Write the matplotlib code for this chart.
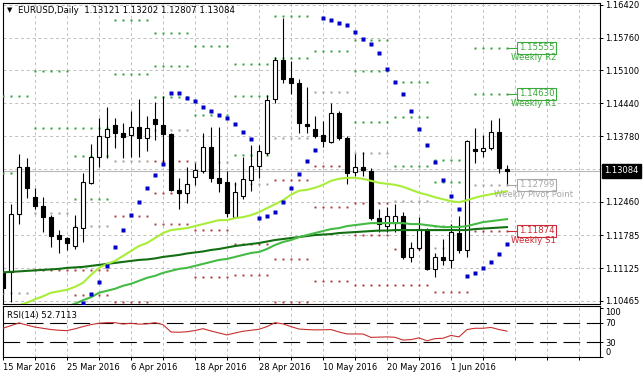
"""
EURUSD daily chart (MT4 look): candles, three moving averages, parabolic SAR,
weekly pivot levels and an RSI(14) sub-window.
"""
import numpy as np
import matplotlib
matplotlib.use('Agg')
import matplotlib.pyplot as plt

# one bar per trading day, bar 0 = 15 Mar 2016
open_ = [1.1105, 1.1105, 1.1221, 1.1316, 1.1255, 1.1237, 1.1215, 1.1179, 1.1173, 1.1157,
         1.1193, 1.1284, 1.1336, 1.1376, 1.1400, 1.1384, 1.1380, 1.1396, 1.1374, 1.1412,
         1.1400, 1.1382, 1.1270, 1.1264, 1.1296, 1.1308, 1.1356, 1.1294, 1.1286, 1.1215,
         1.1257, 1.1290, 1.1318, 1.1344, 1.1453, 1.1531, 1.1495, 1.1485, 1.1402, 1.1392,
         1.1380, 1.1366, 1.1424, 1.1374, 1.1306, 1.1316, 1.1308, 1.1213, 1.1197, 1.1203,
         1.1217, 1.1135, 1.1153, 1.1189, 1.1111, 1.1135, 1.1129, 1.1183, 1.1149, 1.1352,
         1.1348, 1.1354, 1.1386, 1.13121]
high = [1.1123, 1.1241, 1.1342, 1.1334, 1.1274, 1.1255, 1.1219, 1.1189, 1.1175, 1.1219,
        1.1304, 1.1362, 1.1414, 1.1436, 1.1414, 1.1404, 1.1428, 1.1453, 1.1418, 1.1446,
        1.1459, 1.1384, 1.1294, 1.1316, 1.1324, 1.1384, 1.1396, 1.1396, 1.1308, 1.1286,
        1.1336, 1.1360, 1.1360, 1.1461, 1.1537, 1.1615, 1.1529, 1.1493, 1.1477, 1.1418,
        1.1408, 1.1444, 1.1428, 1.1378, 1.1342, 1.1346, 1.1314, 1.1231, 1.1235, 1.1241,
        1.1225, 1.1165, 1.1215, 1.1193, 1.1143, 1.1171, 1.1201, 1.1217, 1.1370, 1.1394,
        1.1380, 1.1410, 1.1414, 1.13202]
low = [1.1063, 1.1044, 1.1201, 1.1253, 1.1231, 1.1185, 1.1155, 1.1143, 1.1149, 1.1151,
       1.1165, 1.1282, 1.1316, 1.1334, 1.1354, 1.1334, 1.1336, 1.1336, 1.1348, 1.1370,
       1.1324, 1.1268, 1.1231, 1.1243, 1.1280, 1.1304, 1.1286, 1.1266, 1.1215, 1.1213,
       1.1251, 1.1268, 1.1294, 1.1340, 1.1444, 1.1485, 1.1463, 1.1384, 1.1384, 1.1374,
       1.1356, 1.1364, 1.1370, 1.1282, 1.1298, 1.1298, 1.1209, 1.1185, 1.1185, 1.1185,
       1.1131, 1.1125, 1.1149, 1.1109, 1.1095, 1.1119, 1.1113, 1.1143, 1.1135, 1.1324,
       1.1336, 1.1350, 1.1304, 1.12807]
close = [1.1073, 1.1221, 1.1316, 1.1274, 1.1237, 1.1215, 1.1177, 1.1171, 1.1163, 1.1195,
         1.1286, 1.1336, 1.1378, 1.1392, 1.1384, 1.1376, 1.1396, 1.1374, 1.1394, 1.1402,
         1.1382, 1.1270, 1.1264, 1.1282, 1.1310, 1.1356, 1.1294, 1.1284, 1.1223, 1.1266,
         1.1292, 1.1318, 1.1348, 1.1451, 1.1531, 1.1493, 1.1485, 1.1404, 1.1398, 1.1378,
         1.1368, 1.1424, 1.1374, 1.1304, 1.1316, 1.1310, 1.1213, 1.1201, 1.1217, 1.1217,
         1.1135, 1.1153, 1.1191, 1.1111, 1.1135, 1.1129, 1.1185, 1.1149, 1.1368, 1.1348,
         1.1354, 1.1386, 1.1314, 1.13084]

# moving averages (fast / medium / slow)
ma_fast = [1.1028, 1.1032, 1.1038, 1.1043, 1.1050, 1.1056, 1.1063, 1.1066, 1.1069, 1.1075,
           1.1083, 1.1099, 1.1113, 1.1121, 1.1127, 1.1137, 1.1147, 1.1157, 1.1163, 1.1173,
           1.1183, 1.1189, 1.1191, 1.1193, 1.1197, 1.1201, 1.1205, 1.1209, 1.1209, 1.1213,
           1.1215, 1.1219, 1.1225, 1.1233, 1.1241, 1.1249, 1.1260, 1.1268, 1.1270, 1.1274,
           1.1280, 1.1288, 1.1292, 1.1294, 1.1294, 1.1292, 1.1288, 1.1284, 1.1282, 1.1280,
           1.1276, 1.1270, 1.1264, 1.1260, 1.1255, 1.1251, 1.1247, 1.1245, 1.1249, 1.1254,
           1.1258, 1.1261, 1.1264, 1.1267]
ma_mid = [1.0988, 1.0994, 1.1000, 1.1006, 1.1012, 1.1018, 1.1024, 1.1029, 1.1035, 1.1041,
          1.1048, 1.1054, 1.1063, 1.1067, 1.1071, 1.1077, 1.1081, 1.1087, 1.1093, 1.1097,
          1.1103, 1.1107, 1.1111, 1.1113, 1.1117, 1.1121, 1.1125, 1.1129, 1.1131, 1.1135,
          1.1139, 1.1143, 1.1145, 1.1151, 1.1159, 1.1165, 1.1169, 1.1175, 1.1179, 1.1183,
          1.1187, 1.1191, 1.1193, 1.1197, 1.1199, 1.1201, 1.1203, 1.1203, 1.1203, 1.1203,
          1.1203, 1.1201, 1.1201, 1.1199, 1.1197, 1.1195, 1.1195, 1.1195, 1.1197, 1.1201,
          1.1205, 1.1207, 1.1209, 1.1211]
ma_slow = [1.1104, 1.1105, 1.1106, 1.1107, 1.1108, 1.1109, 1.1110, 1.1111, 1.1113, 1.1114,
           1.1115, 1.1117, 1.1119, 1.1121, 1.1123, 1.1125, 1.1127, 1.1129, 1.1130, 1.1132,
           1.1135, 1.1137, 1.1139, 1.1142, 1.1144, 1.1146, 1.1149, 1.1151, 1.1154, 1.1157,
           1.1159, 1.1161, 1.1163, 1.1166, 1.1169, 1.1171, 1.1173, 1.1175, 1.1177, 1.1179,
           1.1180, 1.1181, 1.1183, 1.1184, 1.1185, 1.1186, 1.1187, 1.1188, 1.1188, 1.1189,
           1.1189, 1.1189, 1.1189, 1.1189, 1.1189, 1.1189, 1.1189, 1.1189, 1.1189, 1.1191,
           1.1192, 1.1193, 1.1194, 1.1195]

# parabolic SAR (below the visible range for the first bars)
sar = [np.nan] * 10 + [
    1.1042, 1.1061, 1.1085, 1.1117, 1.1155, 1.1189, 1.1220, 1.1246, 1.1273, 1.1300,
    1.1322, 1.1465, 1.1465, 1.1455, 1.1448, 1.1437, 1.1429, 1.1420, 1.1414, 1.1402,
    1.1387, 1.1373, 1.1213, 1.1217, 1.1226, 1.1246, 1.1273, 1.1302, 1.1328, 1.1350,
    1.1616, 1.1611, 1.1606, 1.1601, 1.1588, 1.1574, 1.1564, 1.1544, 1.1513, 1.1487,
    1.1463, 1.1429, 1.1393, 1.1360, 1.1326, 1.1290, 1.1257, 1.1231, 1.1097, 1.1102,
    1.1113, 1.1125, 1.1141, 1.1162]

rsi = [58.6, 64.0, 69.5, 65.0, 61.0, 58.5, 56.0, 54.5, 53.7, 57.5,
       62.0, 66.0, 68.8, 70.0, 70.0, 67.3, 68.8, 67.0, 67.5, 70.0,
       66.0, 51.0, 50.5, 51.5, 54.0, 57.8, 53.0, 49.0, 45.0, 49.0,
       52.5, 54.5, 56.5, 62.0, 70.0, 67.5, 62.0, 57.0, 56.0, 55.3,
       55.5, 56.0, 51.0, 47.0, 47.0, 46.9, 40.0, 40.5, 41.0, 40.2,
       34.5, 35.5, 39.0, 33.0, 37.5, 38.2, 44.0, 41.0, 56.0, 58.6,
       58.6, 60.3, 56.0, 52.7113]

# weekly pivot levels, one value per week
week_start = [0, 4, 9, 14, 19, 24, 29, 34, 39, 44, 49, 54, 59]
week_end = [3, 8, 13, 18, 23, 28, 33, 38, 43, 48, 53, 58, 63]
piv_r3 = [1.1700, 1.1676, 1.1394, 1.1786, 1.1585, 1.1650, 1.1522, 1.1771, 1.1779, 1.1571, 1.1487, 1.1330, 1.1740]
piv_r2 = [1.1459, 1.1509, 1.1338, 1.1612, 1.1519, 1.1558, 1.1459, 1.1620, 1.1697, 1.1509, 1.1417, 1.1286, 1.15555]
piv_r1 = [1.1304, 1.1394, 1.1252, 1.1503, 1.1457, 1.1420, 1.1340, 1.1535, 1.1549, 1.1407, 1.1318, 1.1198, 1.14630]
piv_pp = [1.1063, 1.1224, 1.1197, 1.1327, 1.1390, 1.1325, 1.1281, 1.1375, 1.1466, 1.1343, 1.1248, 1.1152, 1.12799]
piv_s1 = [1.0908, 1.1109, 1.1109, 1.1217, 1.1328, 1.1189, 1.1161, 1.1290, 1.1318, 1.1244, 1.1150, 1.1065, 1.11874]
piv_s2 = [1.0667, 1.0941, 1.1059, 1.1044, 1.1264, 1.1095, 1.1099, 1.1130, 1.1236, 1.1179, 1.1079, 1.1022, 1.1005]
piv_s3 = [1.0512, 1.0824, 1.0968, 1.0933, 1.1201, 1.0961, 1.0979, 1.1045, 1.1087, 1.1079, 1.0991, 1.0880, 1.0915]

price_ticks = [1.16420, 1.15760, 1.15100, 1.14440, 1.13780, 1.12460, 1.11785, 1.11125, 1.10465]
price_grid_extra = [1.13120]
date_labels = ['15 Mar 2016', '25 Mar 2016', '6 Apr 2016', '18 Apr 2016',
               '28 Apr 2016', '10 May 2016', '20 May 2016', '1 Jun 2016']
title = 'EURUSD,Daily  1.13121 1.13202 1.12807 1.13084'

W, H = 643, 378
GRID = '#c0c0c0'
FONT = 'DejaVu Sans'


def px_rect(left, top, right, bottom):
    """Figure rect from pixel box"""
    return [left / W, 1 - bottom / H, (right - left) / W, (bottom - top) / H]


def style_axes(ax):
    ax.set_facecolor('white')
    for s in ax.spines.values():
        s.set_color('black')
        s.set_linewidth(0.8)
    ax.yaxis.tick_right()
    ax.tick_params(axis='y', length=2.5, width=0.7, pad=1.5, labelsize=6, colors='black')


def vgrid(ax, right):
    for b in range(4, int(right) + 1, 4):
        ax.axvline(b, color=GRID, lw=0.7, dashes=(3, 3), zorder=1)


def draw_pivots(ax):
    styles = [(piv_r3, '#2f9e3a', 1.5), (piv_r2, '#2f9e3a', 1.5), (piv_r1, '#2f9e3a', 1.5),
              (piv_pp, '#a0a0a0', 2.1), (piv_s1, '#a83838', 1.4),
              (piv_s2, '#a83838', 1.4), (piv_s3, '#a83838', 1.4)]
    for levels, col, ms in styles:
        for s, e, lv in zip(week_start, week_end, levels):
            xs = np.arange(s, e + 1)
            ax.plot(xs, [lv] * len(xs), ls='none', marker='s', ms=ms,
                    mec='none', color=col, zorder=3)


def draw_pivot_labels(ax, last):
    labels = [(piv_r2[-1], 'Weekly R2', '#3aaa3a'),
              (piv_r1[-1], 'Weekly R1', '#3aaa3a'),
              (piv_pp[-1], 'Weekly Pivot Point', '#a8a8a8'),
              (piv_s1[-1], 'Weekly S1', '#cc2a36')]
    for lv, name, col in labels:
        ax.plot([last, last + 1.4], [lv, lv], color=col, lw=0.8, zorder=8)
        ax.text(last + 1.45, lv, f'{lv:.5f}', fontsize=6.2, color=col, family=FONT,
                ha='left', va='center', zorder=9,
                bbox=dict(boxstyle='square,pad=0.2', fc='white', ec=col, lw=0.8))
        ax.annotate(name, xy=(last + 3.3, lv), xytext=(0, -7), textcoords='offset points',
                    fontsize=6.2, color=col, family=FONT, ha='center', va='center', zorder=10)


def main():
    n = len(close)
    x = np.arange(n)
    o = np.array(open_)
    c = np.array(close)
    up = c >= o

    fig = plt.figure(figsize=(W / 100, H / 100), dpi=100, facecolor='white')
    xlim = ((2.5 - 3) / 8, (600 - 3) / 8)

    # main price window
    ax = fig.add_axes(px_rect(2.5, 3, 600, 304))
    style_axes(ax)
    ax.set_xlim(*xlim)
    ax.set_ylim(1.165145 - 0.000201 * 304, 1.165145 - 0.000201 * 3)
    ax.set_yticks(price_ticks)
    ax.set_yticklabels([f'{p:.5f}' for p in price_ticks], fontfamily=FONT)
    ax.set_xticks([])
    for p in price_ticks + price_grid_extra:
        ax.axhline(p, color=GRID, lw=0.7, dashes=(3, 3), zorder=1)
    vgrid(ax, xlim[1])
    ax.axhline(c[-1], color='#b8b8b8', lw=0.8, zorder=2)

    draw_pivots(ax)

    # candles
    body_lo = np.minimum(o, c)
    body_h = np.maximum(np.abs(c - o), 0.00012)
    ax.vlines(x, low, high, color='black', lw=0.8, zorder=4)
    ax.bar(x[up], body_h[up], bottom=body_lo[up], width=0.62, color='white',
           edgecolor='black', lw=0.8, zorder=5)
    ax.bar(x[~up], body_h[~up], bottom=body_lo[~up], width=0.62, color='black',
           edgecolor='black', lw=0.8, zorder=5)

    ax.plot(x, ma_slow, color='#127012', lw=1.5, zorder=6)
    ax.plot(x, ma_mid, color='#45bb45', lw=1.5, zorder=6)
    ax.plot(x, ma_fast, color='#a8ee38', lw=1.5, zorder=6)
    ax.plot(x, sar, ls='none', marker='s', ms=2.3, mec='none', color='#0000c8', zorder=7)

    draw_pivot_labels(ax, n - 1)

    ax.annotate(f'{c[-1]:.5f}', xy=(1.0, c[-1]), xycoords=('axes fraction', 'data'),
                xytext=(3.2, 0), textcoords='offset points', ha='left', va='center',
                fontsize=6, family=FONT, color='white', zorder=20, annotation_clip=False,
                bbox=dict(boxstyle='square,pad=0.3', fc='black', ec='black'))

    ax.text(0.007, 0.975, '\u25bc', transform=ax.transAxes, fontsize=5, family=FONT,
            ha='left', va='center')
    ax.text(0.026, 0.975, title, transform=ax.transAxes, fontsize=6.2, family=FONT,
            ha='left', va='center')

    # RSI window
    ar = fig.add_axes(px_rect(2.5, 306, 600, 357))
    style_axes(ar)
    ar.set_xlim(*xlim)
    ar.set_ylim(0, 104)
    ar.set_yticks([100, 70, 30, 0])
    ar.set_yticklabels(['100', '70', '30', '0'], fontfamily=FONT)
    ylabs = ar.get_yticklabels()
    ylabs[0].set_va('top')
    ylabs[-1].set_va('bottom')
    vgrid(ar, xlim[1])
    for lv in (70, 30):
        ar.axhline(lv, color='black', lw=0.8, dashes=(15, 6), zorder=2)
    ar.plot(x, rsi, color='#c83030', lw=0.8, zorder=3)
    ar.text(0.007, 0.82, f'RSI(14) {rsi[-1]:.4f}', transform=ar.transAxes, fontsize=6.2,
            family=FONT, ha='left', va='center')

    ticks = list(range(0, int(xlim[1]) + 1, 4))
    ar.set_xticks(ticks)
    tl = []
    for t in ticks:
        k = t // 8
        tl.append(date_labels[k] if t % 8 == 0 and k < len(date_labels) else '')
    ar.set_xticklabels(tl, fontfamily=FONT)
    ar.tick_params(axis='x', length=2.5, width=0.7, pad=2, labelsize=6)
    for t in ar.get_xticklabels():
        t.set_ha('left')

    fig.savefig('out.png', dpi=100, facecolor='white')


if __name__ == "__main__":
    main()
